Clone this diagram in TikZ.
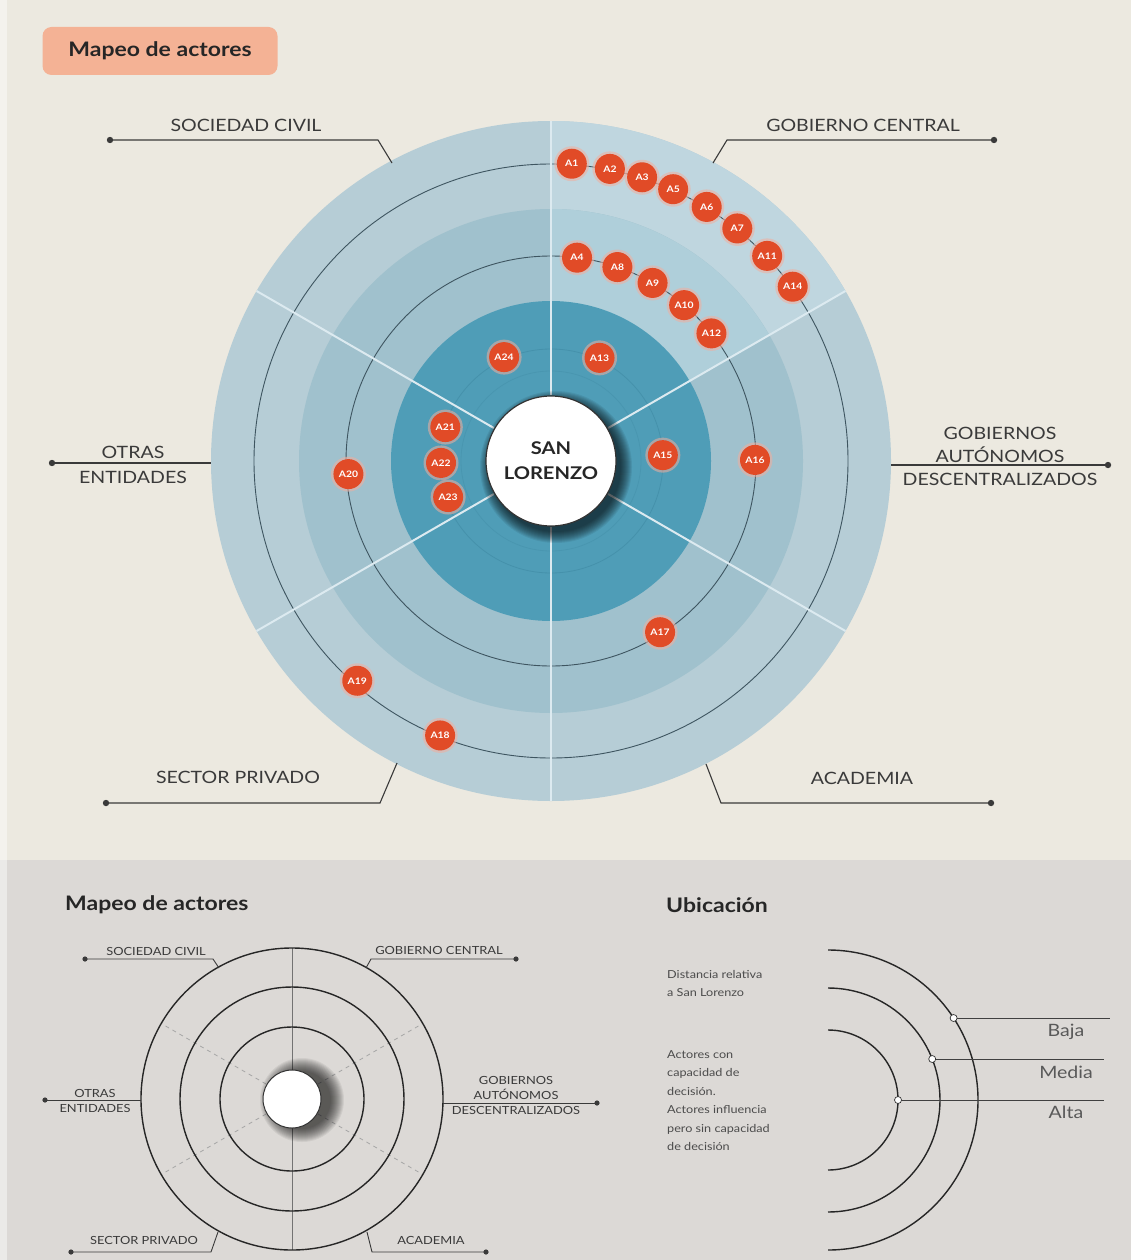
\documentclass[tikz,border=0pt]{standalone}
\usepackage{fontspec}
\setmainfont[FakeStretch=1.15]{Lato}
\usetikzlibrary{calc}
\definecolor{bgtop}{HTML}{ECE9E0}
\definecolor{bgbot}{HTML}{DCD9D6}
\definecolor{ringA}{HTML}{B6CDD6}
\definecolor{ringAh}{HTML}{BFD6DF}
\definecolor{ringB}{HTML}{A0C1CD}
\definecolor{ringBh}{HTML}{AFCFDA}
\definecolor{tealc}{HTML}{4F9DB7}
\definecolor{tealline}{HTML}{3F8AA3}
\definecolor{actor}{HTML}{E14B27}
\definecolor{salmon}{HTML}{F4B295}
\definecolor{txt}{HTML}{3A3A3A}
\definecolor{sepc}{HTML}{DCEAF0}
\definecolor{circc}{HTML}{3E5560}
\begin{document}
\begin{tikzpicture}[x=1pt,y=-1pt,
  lbl/.style={font=\fontsize{17}{25}\selectfont, text=txt, inner sep=0, align=center},
  slbl/.style={font=\fontsize{11.2}{15}\selectfont, text=txt, inner sep=0, align=center},
  leader/.style={draw=txt, line width=1.1pt},
  sleader/.style={draw=txt, line width=0.9pt},
  ldot/.style={fill=txt},
  actornode/.style={circle, fill=actor, text=white, minimum size=30pt, inner sep=0pt, font=\bfseries\fontsize{9}{10}\selectfont},
  circline/.style={draw=circc, line width=0.9pt},
  sepline/.style={draw=sepc, line width=2pt},
  smallcirc/.style={draw=black!85, line width=1.4pt},
  arcline/.style={draw=black!85, line width=1.4pt},
  hline/.style={draw=black!75, line width=0.8pt},
  opendot/.style={circle, draw=black!80, fill=white, line width=0.7pt, minimum size=7pt, inner sep=0pt},
  titlebox/.style={rounded corners=9pt, fill=salmon, minimum width=235pt, minimum height=48pt, inner sep=0pt, font=\bfseries\fontsize{20}{24}\selectfont, text=black!85},
  ubitext/.style={font=\fontsize{11}{18.5}\selectfont, text=black!70, inner sep=0pt, align=left, anchor=north west},
  level/.style={font=\fontsize{17}{20}\selectfont, text=black!65, inner sep=0pt},
  heading/.style={font=\bfseries\fontsize{20}{24}\selectfont, text=black!85, inner sep=0pt, anchor=west}
]
\useasboundingbox (0,0) rectangle (1131,1260);
% backgrounds
\fill[bgtop] (0,0) rectangle (1131,860);
\fill[bgbot] (0,860) rectangle (1131,1260);
\fill[white,opacity=0.45] (0,0) rectangle (7,1260);

% title
\node[titlebox] (title) at (160,51) {Mapeo de actores};

% ===== main circle =====
\begin{scope}[shift={(551,461)}, y=1pt]
  \fill[ringA] (0,0) circle (340pt);
  \fill[ringAh] (0,0) -- (30:340) arc (30:90:340pt) -- cycle;
  \fill[ringB] (0,0) circle (252pt);
  \fill[ringBh] (0,0) -- (30:252) arc (30:90:252pt) -- cycle;
  \fill[tealc] (0,0) circle (160pt);
  \draw[tealline, line width=0.8pt, opacity=0.6] (0,0) circle (112pt);
  \draw[tealline, line width=0.8pt, opacity=0.35] (0,0) circle (90pt);
  \draw[circline] (0,0) circle (297pt);
  \draw[circline] (0,0) circle (205pt);
  \foreach \a in {30,90,150,210,270,330}
    \draw[sepline] (\a:66) -- (\a:340);
  % shadow of centre
  \foreach \rr in {65,...,76}
    \fill[black, opacity=0.07] (5,-6) circle (\rr pt);
  \node[circle, fill=white, draw=black!80, line width=1.2pt, minimum size=130pt, inner sep=0pt,
        font=\bfseries\fontsize{17.5}{25}\selectfont, text=black!85, align=center] (sl) at (0,0) {SAN\\LORENZO};
  % actors
  \foreach \n/\a/\r in {A1/86/298, A2/78.6/298, A3/72.2/298, A5/65.8/298, A6/58.5/298,
      A7/51.3/298, A11/43.5/298, A14/35.8/298, A4/82.7/205, A8/71.1/205, A9/60.3/205,
      A10/49.5/205, A12/38.5/205, A13/64.8/114, A24/114.3/114, A21/162.2/111,
      A22/181/110, A23/199.3/109, A20/183.7/203, A15/3/112, A16/0.3/204,
      A17/-57.5/203, A19/228.6/293, A18/248/296}{
    \fill[actor!45!white, opacity=0.55] (\a:\r) circle (17.5pt);
    \node[actornode] (\n) at (\a:\r) {\n};
  }
\end{scope}

% ===== main labels =====
\coordinate (scD) at (110,140); \coordinate (scB) at (378,140); \coordinate (scE) at (392,163);
\draw[leader] (scD) -- (scB) -- (scE); \fill[ldot] (scD) circle (3.2pt);
\node[lbl] (scT) at (246,125) {SOCIEDAD CIVIL};

\coordinate (gcD) at (994,140); \coordinate (gcB) at (727,140); \coordinate (gcE) at (713,163);
\draw[leader] (gcD) -- (gcB) -- (gcE); \fill[ldot] (gcD) circle (3.2pt);
\node[lbl] (gcT) at (863,125) {GOBIERNO CENTRAL};

\coordinate (oeD) at (52,463); \coordinate (oeE) at (211,463);
\draw[leader] (oeD) -- (oeE); \fill[ldot] (oeD) circle (3.2pt);
\node[lbl] (oeT) at (133,465) {OTRAS\\ENTIDADES};

\coordinate (gaD) at (1108,465); \coordinate (gaE) at (891,465);
\draw[leader] (gaE) -- (gaD); \fill[ldot] (gaD) circle (3.2pt);
\node[lbl, font=\fontsize{17}{23}\selectfont] (gaT) at (1000,456) {GOBIERNOS\\AUTÓNOMOS\\DESCENTRALIZADOS};

\coordinate (spD) at (106,803); \coordinate (spB) at (380,803); \coordinate (spE) at (397,763);
\draw[leader] (spD) -- (spB) -- (spE); \fill[ldot] (spD) circle (3.2pt);
\node[lbl] (spT) at (238,777) {SECTOR PRIVADO};

\coordinate (acD) at (991,803); \coordinate (acB) at (721,803); \coordinate (acE) at (706,764);
\draw[leader] (acE) -- (acB) -- (acD); \fill[ldot] (acD) circle (3.2pt);
\node[lbl] (acT) at (862,778) {ACADEMIA};

% ===== bottom left legend =====
\node[heading] (h1) at (65,905) {Mapeo de actores};
\begin{scope}[shift={(292,1099)}, y=1pt]
  \draw[black!55, line width=0.6pt] (90:151) -- (270:151);
  \foreach \a in {30,150,210,330}
    \draw[black!35, line width=0.8pt, dash pattern=on 4pt off 4pt] (\a:30) -- (\a:151);
  \draw[smallcirc] (0,0) circle (151pt);
  \draw[smallcirc] (0,0) circle (112pt);
  \draw[smallcirc] (0,0) circle (72pt);
  \foreach \rr in {29,...,42}
    \fill[black, opacity=0.06] (10,-1) circle (\rr pt);
  \node[circle, fill=white, draw=black!80, line width=1pt, minimum size=58pt, inner sep=0pt] (slsmall) at (0,0) {};
\end{scope}

\coordinate (sscD) at (85,959); \coordinate (sscB) at (213,959); \coordinate (sscE) at (219,968);
\draw[sleader] (sscD) -- (sscB) -- (sscE); \fill[ldot] (sscD) circle (2.6pt);
\node[slbl] (sscT) at (156,951) {SOCIEDAD CIVIL};

\coordinate (sgcD) at (516,959); \coordinate (sgcB) at (371,959); \coordinate (sgcE) at (366,968);
\draw[sleader] (sgcD) -- (sgcB) -- (sgcE); \fill[ldot] (sgcD) circle (2.6pt);
\node[slbl] (sgcT) at (439,950) {GOBIERNO CENTRAL};

\coordinate (soeD) at (45,1100); \coordinate (soeE) at (141,1100);
\draw[sleader] (soeD) -- (soeE); \fill[ldot] (soeD) circle (2.6pt);
\node[slbl] (soeT) at (95,1101) {OTRAS\\ENTIDADES};

\coordinate (sgaD) at (597,1103); \coordinate (sgaE) at (443,1103);
\draw[sleader] (sgaE) -- (sgaD); \fill[ldot] (sgaD) circle (2.6pt);
\node[slbl] (sgaT) at (516,1095) {GOBIERNOS\\AUTÓNOMOS\\DESCENTRALIZADOS};

\coordinate (sspD) at (71,1252); \coordinate (sspB) at (211,1252); \coordinate (sspE) at (218,1232);
\draw[sleader] (sspD) -- (sspB) -- (sspE); \fill[ldot] (sspD) circle (2.6pt);
\node[slbl] (sspT) at (144,1240) {SECTOR PRIVADO};

\coordinate (sacD) at (486,1252); \coordinate (sacB) at (372,1252); \coordinate (sacE) at (367,1232);
\draw[sleader] (sacE) -- (sacB) -- (sacD); \fill[ldot] (sacD) circle (2.6pt);
\node[slbl] (sacT) at (431,1240) {ACADEMIA};

% ===== Ubicación =====
\node[heading] (h2) at (666,905) {Ubicación};
\node[ubitext] (u1) at (667,970) {Distancia relativa\\a San Lorenzo};
\node[ubitext] (u2) at (667,1050) {Actores con\\capacidad de\\decisión.\\Actores influencia\\pero sin capacidad\\de decisión};
\begin{scope}[shift={(828,1100)}, y=1pt]
  \draw[arcline] (90:150) arc (90:-90:150pt);
  \draw[arcline] (90:112) arc (90:-90:112pt);
  \draw[arcline] (90:70) arc (90:-90:70pt);
\end{scope}
\coordinate (pB) at (953.6,1018); \coordinate (eB) at (1110,1018);
\coordinate (pM) at (932.2,1059); \coordinate (eM) at (1104,1059);
\coordinate (pA) at (898,1100); \coordinate (eA) at (1104,1100);
\draw[hline] (pB) -- (eB);
\draw[hline] (pM) -- (eM);
\draw[hline] (pA) -- (eA);
\node[opendot] (dB) at (pB) {};
\node[opendot] (dM) at (pM) {};
\node[opendot] (dA) at (pA) {};
\node[level] (baja) at (1066,1032) {Baja};
\node[level] (media) at (1066,1072) {Media};
\node[level] (alta) at (1066,1112) {Alta};
\end{tikzpicture}
\end{document}
